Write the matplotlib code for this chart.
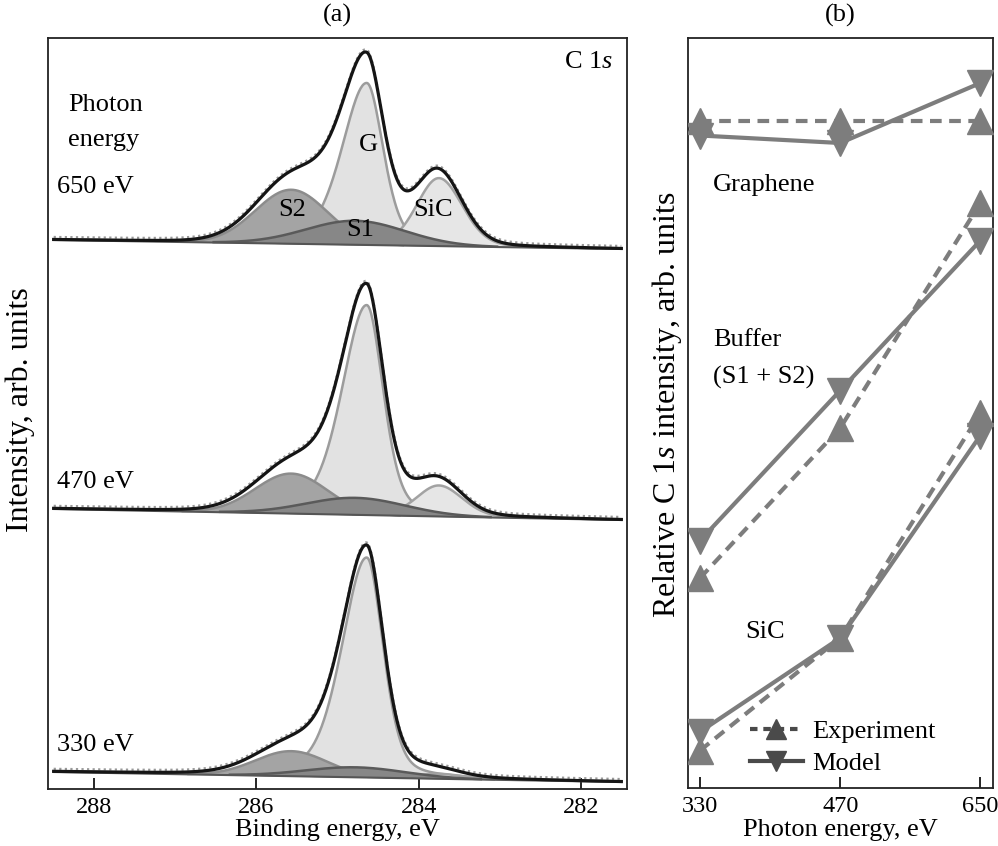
import numpy as np
import matplotlib
matplotlib.use("Agg")
import matplotlib.pyplot as plt
from matplotlib.lines import Line2D

# ---------------------------------------------------#
# data (arb. units)
# ---------------------------------------------------#
# panel (a): fitted C 1s components, one row per photon energy
photon_labels = ["650 eV", "470 eV", "330 eV"]
# linear background: value at the high-BE end and at the low-BE end
bg_left = [549, 280, 17]
bg_right = [540, 269, 7]
components = ["G", "SiC", "S2", "S1"]
comp_center = [284.64, 283.75, 285.57, 284.78]   # eV
comp_hwhm_hi = [0.36, 0.32, 0.52, 0.72]          # half width, high-BE side
comp_hwhm_lo = [0.24, 0.34, 0.52, 0.72]          # half width, low-BE side
comp_eta = [0.35, 0.15, 0.0, 0.0]                # lorentz fraction
comp_height_650 = [162, 68, 54, 24]
comp_height_470 = [210, 31, 40, 17]
comp_height_330 = [220, 5, 25, 10]
e_start, e_stop = 288.5, 281.5

# panel (b): relative C 1s intensity
photon_energy = ["330", "470", "650"]
graphene_exp = [0.89, 0.89, 0.89]
graphene_mod = [0.87, 0.86, 0.94]
buffer_exp = [0.28, 0.48, 0.78]
buffer_mod = [0.33, 0.53, 0.73]
sic_exp = [0.05, 0.20, 0.50]
sic_mod = [0.075, 0.20, 0.47]

# ---------------------------------------------------#
# style
# ---------------------------------------------------#
plt.rcParams["font.family"] = ["Liberation Serif", "DejaVu Serif"]
plt.rcParams["mathtext.fontset"] = "custom"
plt.rcParams["mathtext.rm"] = "Liberation Serif"
plt.rcParams["mathtext.it"] = "Liberation Serif:italic"
fs_txt, fs_tick, fs_ylab = 19, 17.5, 23
fill_col = {"G": "#e2e2e2", "SiC": "#e6e6e6", "S2": "#a4a4a4", "S1": "#878787"}
line_col = {"G": "#9c9c9c", "SiC": "#a2a2a2", "S2": "#8c8c8c", "S1": "#5a5a5a"}
z_comp = {"G": 1, "SiC": 1, "S2": 2, "S1": 3}


def line_shape(e, c, h, w_hi, w_lo, eta):
    w = np.where(e >= c, w_hi, w_lo)
    u = (e - c) / w
    return h * (eta / (1. + u ** 2) + (1. - eta) * np.exp(-np.log(2.) * u ** 2))


fig = plt.figure(figsize=(9.98, 8.46), dpi=100)
W, H = 998., 846.
ax_a = fig.add_axes([48 / W, 1 - 789 / H, (627 - 48) / W, (789 - 38) / H])
ax_b = fig.add_axes([688 / W, 1 - 788 / H, (993 - 688) / W, (788 - 38) / H])

# ---------------------------------------------------#
# panel (a)
# ---------------------------------------------------#
energy = np.linspace(e_start, e_stop, 700)
heights = [comp_height_650, comp_height_470, comp_height_330]
for ii, hh in enumerate(heights):
    base = bg_left[ii] + (bg_right[ii] - bg_left[ii]) * (e_start - energy) / (e_start - e_stop)
    total = base.copy()
    for jj, name in enumerate(components):
        comp = line_shape(energy, comp_center[jj], hh[jj], comp_hwhm_hi[jj], comp_hwhm_lo[jj], comp_eta[jj])
        total += comp
        mask = comp > 0.4
        ax_a.fill_between(energy, base, base + comp, where=mask, color=fill_col[name], lw=0, zorder=z_comp[name])
        ax_a.plot(energy[mask], (base + comp)[mask], color=line_col[name], lw=1.8, zorder=z_comp[name])
    ax_a.plot(energy, base, color="#555555", lw=1.5, zorder=3.5)
    ax_a.plot(energy, total + 2.5, color="#9a9a9a", lw=1.6, ls=(0, (1, 1.5)), zorder=4)
    ax_a.plot(energy, total, color="#151515", lw=2.3, zorder=5)

ax_a.set_xlim(288.57, 281.43)
ax_a.set_ylim(0, 751)
ax_a.set_xticks([288, 286, 284, 282])
ax_a.set_yticks([])
ax_a.tick_params(axis="x", direction="in", length=8, width=1.2, labelsize=fs_tick, pad=6)

ax_a.text(281.6, 727, "C 1$\\mathit{s}$", fontsize=fs_txt, ha="right", va="center")
ax_a.text(288.32, 684, "Photon", fontsize=fs_txt, ha="left", va="center")
ax_a.text(288.32, 649, "energy", fontsize=fs_txt, ha="left", va="center")
for lab, yy in zip(photon_labels, [602, 307, 44]):
    ax_a.text(288.46, yy, lab, fontsize=fs_txt, ha="left", va="center")
ax_a.text(284.62, 644, "G", fontsize=fs_txt, ha="center", va="center", zorder=6)
ax_a.text(285.56, 579, "S2", fontsize=fs_txt, ha="center", va="center", zorder=6)
ax_a.text(284.72, 559, "S1", fontsize=fs_txt, ha="center", va="center", zorder=6)
ax_a.text(283.82, 579, "SiC", fontsize=fs_txt, ha="center", va="center", zorder=6)

# ---------------------------------------------------#
# panel (b)
# ---------------------------------------------------#
xb = np.arange(len(photon_energy))
grey = "#7d7d7d"
kw_exp = dict(color=grey, lw=3.0, ls=(0, (2.8, 1.8)), marker="^", ms=19, zorder=3)
kw_mod = dict(color=grey, lw=3.0, ls="-", marker="v", ms=19, zorder=3)
for ye, ym in [(graphene_exp, graphene_mod), (buffer_exp, buffer_mod), (sic_exp, sic_mod)]:
    ax_b.plot(xb, ye, **kw_exp)
    ax_b.plot(xb, ym, **kw_mod)

ax_b.set_xlim(-0.086, 2.09)
ax_b.set_ylim(0, 1)
ax_b.set_xticks(xb)
ax_b.set_xticklabels(photon_energy)
ax_b.set_yticks([])
ax_b.tick_params(axis="x", direction="in", length=8, width=1.2, labelsize=fs_tick, pad=6)

ax_b.text(0.082, 0.804, "Graphene", fontsize=fs_txt, ha="left", va="center", transform=ax_b.transAxes)
ax_b.text(0.082, 0.597, "Buffer", fontsize=fs_txt, ha="left", va="center", transform=ax_b.transAxes)
ax_b.text(0.082, 0.547, "(S1 + S2)", fontsize=fs_txt, ha="left", va="center", transform=ax_b.transAxes)
ax_b.text(0.187, 0.208, "SiC", fontsize=fs_txt, ha="left", va="center", transform=ax_b.transAxes)

dark = "#4a4a4a"
handles = [Line2D([], [], color=dark, lw=3.0, ls=(0, (1.8, 1.4)), marker="^", ms=14),
           Line2D([], [], color=dark, lw=3.0, ls="-", marker="v", ms=14)]
ax_b.legend(handles, ["Experiment", "Model"], loc="lower left", bbox_to_anchor=(0.16, 0.0),
            frameon=False, fontsize=fs_txt, handlelength=2.0, handletextpad=0.35,
            labelspacing=0.3, borderaxespad=0.1)

for ax in (ax_a, ax_b):
    for sp in ax.spines.values():
        sp.set_linewidth(1.3)
        sp.set_color("#222222")

# ---------------------------------------------------#
# labels
# ---------------------------------------------------#
fig.text(337 / W, 1 - 15 / H, "(a)", fontsize=fs_txt, ha="center", va="center")
fig.text(840 / W, 1 - 15 / H, "(b)", fontsize=fs_txt, ha="center", va="center")
fig.text(337 / W, 1 - 830 / H, "Binding energy, eV", fontsize=fs_txt, ha="center", va="center")
fig.text(840 / W, 1 - 830 / H, "Photon energy, eV", fontsize=fs_txt, ha="center", va="center")
fig.text(20 / W, 1 - 410 / H, "Intensity, arb. units", fontsize=fs_ylab, ha="center", va="center",
         rotation=90)
fig.text(667 / W, 1 - 405 / H, "Relative C 1$\\mathit{s}$ intensity, arb. units", fontsize=fs_ylab,
         ha="center", va="center", rotation=90)

fig.savefig("out.png", dpi=100)
